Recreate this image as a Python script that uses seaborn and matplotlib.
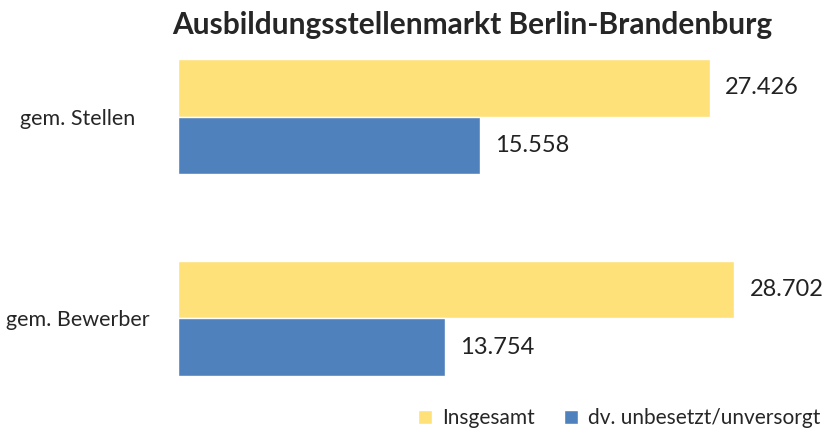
import matplotlib
matplotlib.use("Agg")
import matplotlib.pyplot as plt
import seaborn as sns
import pandas as pd

# ----- Data -----
categories = ["gem. Stellen", "gem. Bewerber"]
series = ["Insgesamt", "dv. unbesetzt/unversorgt"]
insgesamt = [27426, 28702]
unbesetzt = [15558, 13754]
colors = ["#FFE17A", "#4F81BD"]

df = pd.DataFrame({
    "Kategorie": categories * 2,
    "Reihe": [series[0]] * 2 + [series[1]] * 2,
    "Wert": insgesamt + unbesetzt,
})

sns.set_style("white")
plt.rcParams["font.family"] = ["Lato", "DejaVu Sans"]

fig = plt.figure(figsize=(8.28, 4.34), dpi=100)
ax = fig.add_axes([0.215, 0.113, 0.775, 0.772])

sns.barplot(data=df, y="Kategorie", x="Wert", hue="Reihe", orient="h",
            palette=colors, width=0.57, saturation=1, ax=ax)

# ----- Value labels -----
for cont in ax.containers:
    ax.bar_label(cont, labels=[f"{v:,.0f}".replace(",", ".") for v in cont.datavalues],
                 padding=11, fontsize=17, color="#222222")

ax.set_xlim(0, 33100)
ax.set_ylim(1.33, -0.33)
ax.set_xlabel("")
ax.set_ylabel("")
ax.set_xticks([])
ax.tick_params(axis="y", length=0, pad=72, labelsize=15.5)
for lbl in ax.get_yticklabels():
    lbl.set_ha("center")

sns.despine(ax=ax, left=True, bottom=True)

sns.move_legend(ax, "center", bbox_to_anchor=(0.748, 0.037), bbox_transform=fig.transFigure,
                ncol=2, frameon=False, title=None, fontsize=15,
                handlelength=0.65, handleheight=0.65, columnspacing=1.4, handletextpad=0.5)

fig.suptitle("Ausbildungsstellenmarkt Berlin-Brandenburg", x=0.571, y=0.975,
             fontsize=21.5, fontweight="bold")

fig.savefig("out.png", dpi=100)
